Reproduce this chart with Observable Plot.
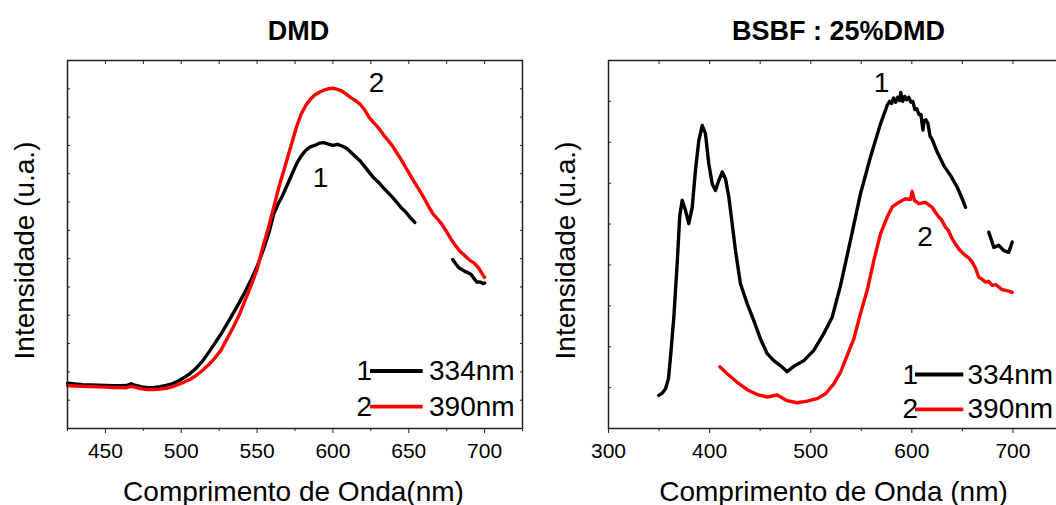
<!DOCTYPE html>
<html><head><meta charset="utf-8">
<script src="https://cdn.jsdelivr.net/npm/d3@7"></script>
<script src="https://cdn.jsdelivr.net/npm/@observablehq/plot@0.6"></script>
<style>
html,body{margin:0;padding:0;background:#fff;}
#wrap{position:relative;width:1056px;height:505px;overflow:hidden;background:#fff;}
#wrap svg{position:absolute;top:0;}
</style></head><body><div id="wrap"></div>
<script>
const FONT = '"Liberation Sans", Arial, Helvetica, sans-serif';

// ---------- Panel 1: DMD ----------
const dmdTitle = "DMD";
const dmdXLabel = "Comprimento de Onda(nm)";
const yLabelText = "Intensidade (u.a.)";
const dmdTicksMajor = [450, 500, 550, 600, 650, 700];
const dmdTicksMinor = [425, 475, 525, 575, 625, 675, 725];
const dmdYTicks = [0,1,2,3,4,5,6,7,8,9,10,11,12,13];

const dmd334Nm = [425,430,435,440,445,450,455,460,464,467,470,474,478,482,486,490,494,498,502,506,510,514,518,522,526,530,534,538,542,546,550,554,558,561,564,567,570,573,576,579,582,585,588,591,594,597,600,603,606,609,612,615,618,621,624,627,630,633,636,639,642,645,648,651,654,666,679,681,683,685,687,689,691,693,695,697,699,700];
const dmd334I  = [1.60,1.57,1.55,1.54,1.53,1.52,1.51,1.51,1.52,1.58,1.52,1.47,1.44,1.45,1.48,1.52,1.58,1.68,1.80,1.95,2.14,2.38,2.68,3.00,3.32,3.68,4.05,4.42,4.82,5.25,5.72,6.30,6.95,7.58,7.95,8.25,8.62,8.98,9.35,9.62,9.82,9.95,10.00,10.08,10.10,10.05,10.00,10.04,9.98,9.90,9.75,9.60,9.45,9.25,9.05,8.85,8.70,8.52,8.35,8.18,8.00,7.80,7.65,7.45,7.28,NaN,5.97,5.82,5.68,5.62,5.55,5.50,5.45,5.30,5.17,5.18,5.12,5.14];

const dmd390Nm = [425,430,435,440,445,450,455,460,464,467,470,474,478,482,486,490,494,498,502,506,510,514,518,522,526,530,534,538,542,546,550,554,558,561,564,567,570,573,576,579,582,585,588,591,594,597,600,603,606,609,612,615,618,621,624,627,630,633,636,639,642,645,648,651,654,657,660,663,666,669,672,675,678,681,684,687,690,693,696,698,700];
const dmd390I  = [1.52,1.50,1.49,1.48,1.47,1.46,1.45,1.45,1.44,1.49,1.45,1.40,1.38,1.38,1.39,1.42,1.47,1.56,1.64,1.74,1.88,2.05,2.25,2.48,2.75,3.15,3.55,3.98,4.52,5.05,5.62,6.45,7.20,7.82,8.45,9.00,9.55,10.10,10.65,11.10,11.40,11.62,11.78,11.88,11.95,12.00,12.02,11.98,11.92,11.80,11.68,11.58,11.45,11.25,10.98,10.80,10.62,10.40,10.20,10.00,9.75,9.50,9.22,8.95,8.68,8.42,8.15,7.85,7.58,7.40,7.20,6.95,6.68,6.45,6.25,6.10,5.95,5.85,5.68,5.50,5.34];

const dmdLabelText = ["2", "1"];
const dmdLabelNm = [628.7, 591.8];
const dmdLabelI = [11.88, 8.52];

// ---------- Panel 2: BSBF : 25%DMD ----------
const bsbfTitle = "BSBF : 25%DMD";
const bsbfXLabel = "Comprimento de Onda (nm)";
const bsbfTicksMajor = [300, 400, 500, 600, 700];
const bsbfTicksMinor = [350, 450, 550, 650, 750];
const bsbfYTicks = [0,1,2,3,4,5,6,7,8,9];

const bsbf334Nm = [349.7,353.1,356.4,359.3,361.3,364.6,367.9,370.5,372.9,376.2,379.4,382.8,386.0,389.3,392.7,395.9,399.2,402.6,405.8,409.1,412.5,415.7,419.0,422.3,425.6,430.5,437.2,443.7,450.3,457.0,463.5,470.1,476.7,483.3,493.2,503.0,512.9,521.2,529.5,539.3,549.2,559.1,569.0,575.6,578,580,582,584,586,588,589,591,593,595,597,599,601,603,605,607,609,611,612,614,616,618,620,625.1,631.6,638.2,644.9,649.8,653.1,665,676.1,681.1,686.0,691.0,695.9,699.3];
const bsbf334I  = [0.81,0.86,0.97,1.22,1.74,2.72,4.03,5.21,5.58,5.33,5.01,5.41,6.31,7.04,7.41,7.21,6.47,5.98,5.82,6.07,6.27,6.11,5.66,5.01,4.35,3.54,3.05,2.64,2.19,1.83,1.66,1.54,1.39,1.52,1.66,1.91,2.32,2.72,3.50,4.60,5.74,6.64,7.45,7.90,8.00,7.95,8.08,7.98,8.10,8.02,8.22,8.00,8.12,8.04,8.10,7.98,8.00,7.80,7.82,7.68,7.68,7.30,7.52,7.55,7.45,7.15,7.08,6.76,6.43,6.19,5.90,5.62,5.41,NaN,4.80,4.43,4.48,4.35,4.31,4.56];

const bsbf390Nm = [410.1,417.4,427.3,437.2,447.1,457.0,466.8,476.7,486.6,496.5,506.4,514.6,522.8,529.5,542.6,549.2,555.9,562.4,569.0,575.6,580.6,587.1,593.7,598.5,600.4,602.5,606.9,613.5,620.1,623,626.7,629,633.3,636,639.9,643,646.5,650,653.1,656,659.7,663,666.2,669,672.9,676,679.5,683,686.0,689,692.6,696,699.3];
const bsbf390I  = [1.51,1.34,1.13,0.95,0.83,0.77,0.82,0.68,0.63,0.67,0.73,0.85,1.09,1.38,2.19,2.81,3.38,4.11,4.76,5.17,5.42,5.53,5.62,5.60,5.80,5.58,5.50,5.53,5.41,5.30,5.17,5.12,4.92,4.85,4.64,4.52,4.39,4.30,4.23,4.18,4.07,3.92,3.70,3.66,3.58,3.60,3.50,3.52,3.46,3.40,3.38,3.36,3.33];

const bsbfLabelText = ["1", "2"];
const bsbfLabelNm = [570.0, 613.0];
const bsbfLabelI = [8.22, 4.46];

// ---------- legend ----------
const legendNums = ["1", "2"];
const legendTexts = ["334nm", "390nm"];
const seriesColors = ["#000000", "#ff0000"];

function rows(xs, ys) { return xs.map((x, i) => ({x, y: ys[i]})); }

function panel(c) {
  const lineOpts = {x: "x", y: "y", strokeWidth: 3.4, strokeLinejoin: "round", strokeLinecap: "round"};
  const labels = c.labelText.map((t, i) => ({t, x: c.labelNm[i], y: c.labelI[i]}));
  return Plot.plot({
    width: 535, height: 505,
    marginLeft: 67, marginRight: 13, marginTop: 60, marginBottom: 77,
    x: {domain: c.xDomain},
    y: {domain: [0, c.yMax]},
    style: {fontFamily: FONT, fontSize: "21px", color: "#000", background: "transparent", overflow: "visible"},
    marks: [
      Plot.line(rows(c.x1, c.y1), {...lineOpts, stroke: seriesColors[0]}),
      Plot.line(rows(c.x2, c.y2), {...lineOpts, stroke: seriesColors[1]}),
      Plot.frame({stroke: "#222", strokeWidth: 1.5}),
      Plot.axisX(c.xMajor, {tickSize: 5, tickPadding: 10, fontSize: 21, label: null, stroke: "#222"}),
      Plot.axisX(c.xMinor, {tickSize: 3, fill: "none", label: null, stroke: "#222"}),
      Plot.axisX(c.xMajor.concat(c.xMinor), {anchor: "top", tickSize: 3, dy: 3, fill: "none", label: null, stroke: "#222"}),
      Plot.axisY(c.yTicks, {anchor: "left", tickSize: 3, dx: 3, fill: "none", label: null, stroke: "#222"}),
      Plot.axisY(c.yTicks, {anchor: "right", tickSize: 3, dx: -3, fill: "none", label: null, stroke: "#222"}),
      Plot.text(labels, {x: "x", y: "y", text: "t", fontSize: 28, lineAnchor: "bottom", textAnchor: "middle", fill: "#000"}),
      Plot.text([c.title], {text: d => d, frameAnchor: "top", dx: c.titleDx, dy: -20.7, lineAnchor: "bottom", textAnchor: "middle", fontSize: 27, fontWeight: "bold", fill: "#000"}),
      Plot.text([c.xLabel], {text: d => d, frameAnchor: "bottom", dx: c.xLabelDx, dy: 72, lineAnchor: "bottom", textAnchor: "middle", fontSize: 28, fill: "#000"}),
      Plot.text([yLabelText], {text: d => d, frameAnchor: "left", dx: -34, dy: 6, rotate: -90, lineAnchor: "bottom", textAnchor: "middle", fontSize: 28, fill: "#000"})
    ]
  });
}

function addLegend(svg, p) {
  const g = d3.select(svg).append("g").attr("font-family", FONT).attr("font-size", 28).attr("fill", "#000");
  legendNums.forEach((n, i) => {
    const y = p.y[i];
    g.append("text").attr("x", p.numEnd).attr("y", y + 9).attr("text-anchor", "end").text(n);
    g.append("line").attr("x1", p.x1).attr("x2", p.x2).attr("y1", y).attr("y2", y)
      .attr("stroke", seriesColors[i]).attr("stroke-width", 3.8);
    g.append("text").attr("x", p.textX).attr("y", y + 9).attr("text-anchor", "start").text(legendTexts[i]);
  });
}

const wrap = document.getElementById("wrap");

const svg1 = panel({
  title: dmdTitle, titleDx: 3.5, xLabel: dmdXLabel, xLabelDx: -1.5,
  xDomain: [425, 725], yMax: 13, yTicks: dmdYTicks,
  xMajor: dmdTicksMajor, xMinor: dmdTicksMinor,
  x1: dmd334Nm, y1: dmd334I, x2: dmd390Nm, y2: dmd390I,
  labelText: dmdLabelText, labelNm: dmdLabelNm, labelI: dmdLabelI
});
svg1.style.left = "0px";
addLegend(svg1, {numEnd: 372, x1: 370, x2: 422.7, textX: 429, y: [371, 406.7]});
wrap.appendChild(svg1);

const svg2 = panel({
  title: bsbfTitle, titleDx: 2.5, xLabel: bsbfXLabel, xLabelDx: -2.5,
  xDomain: [300, 750], yMax: 9, yTicks: bsbfYTicks,
  xMajor: bsbfTicksMajor, xMinor: bsbfTicksMinor,
  x1: bsbf334Nm, y1: bsbf334I, x2: bsbf390Nm, y2: bsbf390I,
  labelText: bsbfLabelText, labelNm: bsbfLabelNm, labelI: bsbfLabelI
});
svg2.style.left = "541px";
addLegend(svg2, {numEnd: 377, x1: 374, x2: 422.3, textX: 426.5, y: [374.5, 409.3]});
wrap.appendChild(svg2);
</script>
</body></html>
